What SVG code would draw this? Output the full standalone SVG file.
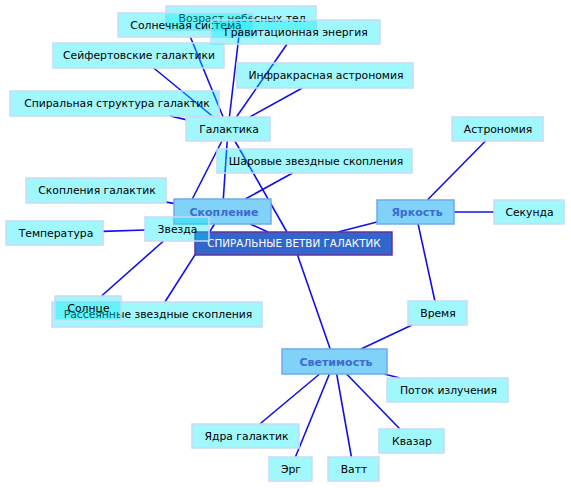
<svg xmlns="http://www.w3.org/2000/svg" width="571" height="488" viewBox="0 0 571 488">
<style>
text{font-family:"DejaVu Sans","Liberation Sans",sans-serif;font-size:10.8px;text-anchor:middle}
.leaf rect{fill:#00ECF6;fill-opacity:.37;stroke:#C8DAF8;stroke-width:1.5}
.leaf text{fill:#000}
.mid rect{fill:#80D2F8;stroke:#6EAAE8;stroke-width:1.5}
.mid text{fill:#3D6BD0;font-weight:bold;font-size:11px}
.root rect{fill:#3366CC;stroke:#663399;stroke-width:1.5}
.root text{fill:#FFF;font-size:10.4px}
#connectors line{stroke:#1010EE;stroke-width:1.6}
</style>
<rect width="571" height="488" fill="#FFF"/>
<g id="connectors">
<line x1="190.4" y1="37" x2="223.1" y2="117"/>
<line x1="239.6" y1="30" x2="229.4" y2="117"/>
<line x1="287.1" y1="44" x2="236.4" y2="117"/>
<line x1="153.7" y1="68" x2="213.4" y2="117"/>
<line x1="170.1" y1="116" x2="186" y2="119.6"/>
<line x1="302.3" y1="88" x2="249.8" y2="117"/>
<line x1="227.2" y1="141" x2="223.3" y2="199"/>
<line x1="234.9" y1="141" x2="286.9" y2="232"/>
<line x1="221.9" y1="141" x2="183.1" y2="217"/>
<line x1="292.6" y1="173" x2="245.3" y2="199"/>
<line x1="166" y1="202.1" x2="174" y2="203.4"/>
<line x1="250.2" y1="224" x2="268" y2="232"/>
<line x1="214.6" y1="224" x2="164.9" y2="302"/>
<line x1="145" y1="230" x2="103" y2="231.4"/>
<line x1="163.5" y1="241" x2="101.5" y2="296"/>
<line x1="338" y1="232" x2="377" y2="221.9"/>
<line x1="297.5" y1="255" x2="330.2" y2="349"/>
<line x1="427.4" y1="200" x2="485.5" y2="141"/>
<line x1="454" y1="212" x2="494" y2="212"/>
<line x1="418.1" y1="224" x2="434.9" y2="301"/>
<line x1="361" y1="349" x2="412" y2="325"/>
<line x1="384.1" y1="374" x2="399.9" y2="378"/>
<line x1="319.6" y1="374" x2="259.8" y2="424"/>
<line x1="329.4" y1="374" x2="295.4" y2="457"/>
<line x1="336.7" y1="374" x2="351.4" y2="457"/>
<line x1="346.6" y1="374" x2="399.9" y2="429"/>
</g>
<g id="root" class="root"><rect x="195" y="232" width="197" height="23"/><text x="294" y="247">СПИРАЛЬНЫЕ ВЕТВИ ГАЛАКТИК</text></g>
<g id="skoplenie" class="mid"><rect x="174" y="199" width="97" height="25"/><text x="224" y="215.5">Скопление</text></g>
<g id="yarkost" class="mid"><rect x="377" y="200" width="77" height="24"/><text x="417" y="216">Яркость</text></g>
<g id="svetimost" class="mid"><rect x="282" y="349" width="105" height="25"/><text x="336" y="365.5">Светимость</text></g>
<g id="galaktika" class="leaf"><rect x="186" y="117" width="84" height="24"/><text x="229" y="132.5">Галактика</text></g>
<g id="vozrast" class="leaf"><rect x="166" y="6" width="150" height="24"/><text x="242" y="21.5">Возраст небесных тел</text></g>
<g id="solnechnaya" class="leaf"><rect x="118" y="13" width="135" height="24"/><text x="186" y="28.5">Солнечная система</text></g>
<g id="gravitacionnaya" class="leaf"><rect x="211" y="20" width="169" height="24"/><text x="296" y="35.5">Гравитационная энергия</text></g>
<g id="seyfert" class="leaf"><rect x="53" y="43" width="171" height="25"/><text x="139" y="59">Сейфертовские галактики</text></g>
<g id="infrakrasnaya" class="leaf"><rect x="237" y="63" width="176" height="25"/><text x="326" y="79">Инфракрасная астрономия</text></g>
<g id="spiralnaya" class="leaf"><rect x="10" y="91" width="209" height="25"/><text x="117" y="107">Спиральная структура галактик</text></g>
<g id="astronomiya" class="leaf"><rect x="452" y="117" width="91" height="24"/><text x="498" y="132.5">Астрономия</text></g>
<g id="sharovye" class="leaf"><rect x="217" y="149" width="195" height="24"/><text x="316" y="164.5">Шаровые звездные скопления</text></g>
<g id="skopleniya-galaktik" class="leaf"><rect x="26" y="178" width="140" height="25"/><text x="97" y="194">Скопления галактик</text></g>
<g id="sekunda" class="leaf"><rect x="494" y="200" width="70" height="24"/><text x="529.5" y="216">Секунда</text></g>
<g id="temperatura" class="leaf"><rect x="6" y="221" width="97" height="24"/><text x="56" y="236.5">Температура</text></g>
<g id="zvezda" class="leaf"><rect x="145" y="217" width="64" height="24"/><text x="177.5" y="232.5">Звезда</text></g>
<g id="rasseyannye" class="leaf"><rect x="52" y="302" width="210" height="25"/><text x="158" y="318">Рассеянные звездные скопления</text></g>
<g id="solnce" class="leaf"><rect x="55" y="296" width="66" height="24"/><text x="88.5" y="311.5">Солнце</text></g>
<g id="vremya" class="leaf"><rect x="408" y="301" width="59" height="24"/><text x="438" y="316.5">Время</text></g>
<g id="potok" class="leaf"><rect x="387" y="378" width="121" height="24"/><text x="448.5" y="393.5">Поток излучения</text></g>
<g id="yadra" class="leaf"><rect x="192" y="424" width="107" height="24"/><text x="246.5" y="439.5">Ядра галактик</text></g>
<g id="kvazar" class="leaf"><rect x="379" y="429" width="65" height="24"/><text x="412" y="444.5">Квазар</text></g>
<g id="erg" class="leaf"><rect x="269" y="457" width="43" height="24"/><text x="291" y="472.5">Эрг</text></g>
<g id="vatt" class="leaf"><rect x="328" y="457" width="51" height="24"/><text x="354" y="472.5">Ватт</text></g>
</svg>
